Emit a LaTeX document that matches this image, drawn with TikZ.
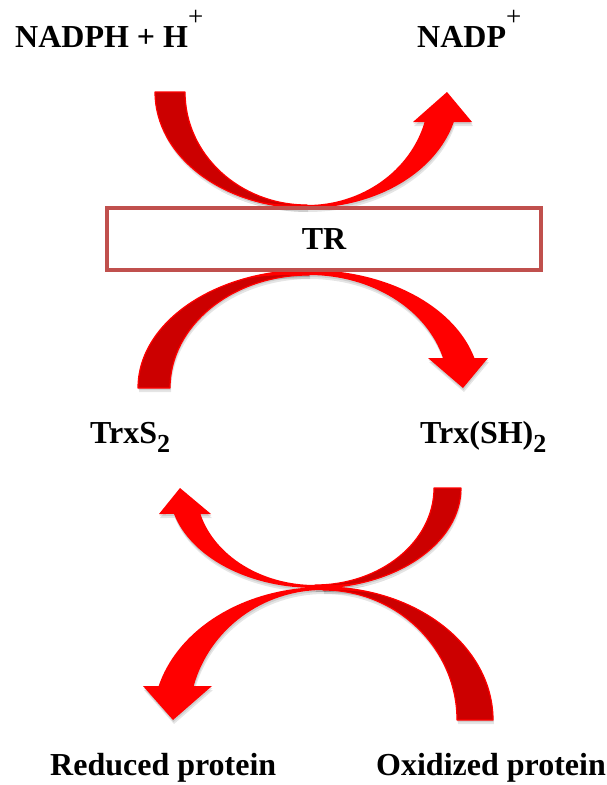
\documentclass[tikz,border=0pt]{standalone}
\usepackage{fontspec}
\setmainfont{Liberation Serif}
\definecolor{bright}{HTML}{FF0000}
\definecolor{darkr}{HTML}{CC0000}
\definecolor{boxc}{HTML}{C0504D}
\newcommand\mysup[1]{\raisebox{22pt}{\fontsize{27}{27}\selectfont\mdseries #1}}
\newcommand\mysub[1]{\raisebox{-9pt}{\fontsize{26}{26}\selectfont #1}}
\tikzset{
  lbl/.style={font=\fontsize{32}{38}\selectfont\bfseries, inner sep=0pt},
  backpart/.style={fill=darkr, draw=bright, line width=1.2pt, line join=round},
  frontpart/.style={fill=bright},
  shade/.style={fill=black, opacity=0.10},
  topback/.style={insert path={(155,-92) arc[start angle=180,end angle=270,x radius=152,y radius=116] -- (307,-205) arc[start angle=270,end angle=180,x radius=122,y radius=113] -- cycle}},
  topfront/.style={insert path={(219.8,-187.0) arc[start angle=235,end angle=345,x radius=152,y radius=116] -- (472,-122) -- (447,-92) -- (413,-122) -- (424.6,-122) arc[start angle=344.6,end angle=270,x radius=122,y radius=113] to[out=180,in=-28] (219.8,-187.0) -- cycle}},
  midback/.style={insert path={(138,-388) arc[start angle=180,end angle=90,x radius=171,y radius=118] -- (309,-275) arc[start angle=90,end angle=180,x radius=139,y radius=113] -- cycle}},
  midfront/.style={insert path={(210.9,-291.3) arc[start angle=125,end angle=14.7,x radius=171,y radius=118] -- (488,-358) -- (463,-388) -- (428,-358) -- (443.0,-358) arc[start angle=15.4,end angle=90,x radius=139,y radius=113] to[out=180,in=26] (210.9,-291.3) -- cycle}},
  aback/.style={insert path={(461,-488) arc[start angle=360,end angle=270,x radius=146,y radius=100] -- (315,-585) arc[start angle=270,end angle=360,x radius=119,y radius=97] -- cycle}},
  afront/.style={insert path={(398.7,-569.9) arc[start angle=305,end angle=195.07,x radius=146,y radius=100] -- (159,-514) -- (180,-488) -- (211,-514) -- (200.4,-514) arc[start angle=195.55,end angle=270,x radius=119,y radius=97] to[out=0,in=-154] (398.7,-569.9) -- cycle}},
  bback/.style={insert path={(493,-720) arc[start angle=0,end angle=90,x radius=170,y radius=133] -- (323,-590) arc[start angle=90,end angle=0,x radius=134,y radius=130] -- cycle}},
  bfront/.style={insert path={(420.5,-611.1) arc[start angle=55,end angle=165.19,x radius=170,y radius=133] -- (143,-686) -- (173,-720) -- (212,-686) -- (193.7,-686) arc[start angle=164.84,end angle=90,x radius=134,y radius=130] to[out=0,in=151] (420.5,-611.1) -- cycle}},
}
\begin{document}
\begin{tikzpicture}[x=1pt,y=1pt]
\useasboundingbox (0,0) rectangle (607,-785);
% shadows
\foreach \p in {topback,topfront,midback,midfront,aback,afront,bback,bfront}{
  \fill[shade, shift={(1,-4)}, \p];
  \fill[shade, shift={(0.5,-2)}, \p];
}
% arrows
\path[backpart, topback];
\path[frontpart, topfront];
\path[backpart, midback];
\path[frontpart, midfront];
\path[backpart, aback];
\path[backpart, bback];
\path[frontpart, afront];
\path[frontpart, bfront];
% box
\node[lbl, draw=boxc, line width=3.5pt, minimum width=434pt, minimum height=62pt] (tr) at (324,-239) {TR};
% labels
\node[lbl, anchor=base west] (nadph) at (15,-47) {NADPH + H\mysup{+}};
\node[lbl, anchor=base west] (nadp) at (417,-47) {NADP\mysup{+}};
\node[lbl, anchor=base west] (trxs) at (90,-443) {TrxS\mysub{2}};
\node[lbl, anchor=base west] (trxsh) at (420,-443) {Trx(SH)\mysub{2}};
\node[lbl, anchor=base west] (red) at (50,-775) {Reduced protein};
\node[lbl, anchor=base west] (oxi) at (376,-775) {Oxidized protein};
\end{tikzpicture}
\end{document}
